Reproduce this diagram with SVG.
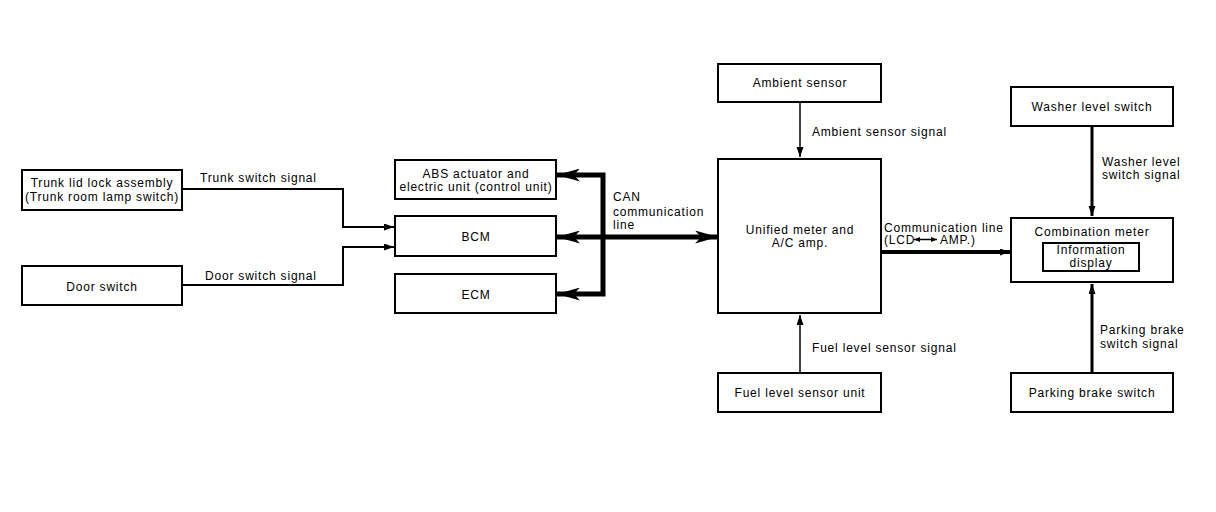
<svg xmlns="http://www.w3.org/2000/svg" width="1216" height="512" viewBox="0 0 1216 512">
<style>
.box{fill:#fff;stroke:#000;stroke-width:2}
text{font-family:"Liberation Sans",Arial,sans-serif;font-size:12px;letter-spacing:0.8px;fill:#000}
.c{text-anchor:middle}
.ln{fill:none;stroke:#000;stroke-linejoin:miter}
</style>
<defs>
<marker id="sa" markerUnits="userSpaceOnUse" markerWidth="11" markerHeight="8" refX="10" refY="3.5" orient="auto"><path d="M0,0 L10,3.5 L0,7 z" fill="#000"/></marker>
<marker id="ba" markerUnits="userSpaceOnUse" markerWidth="24" markerHeight="13" refX="23" refY="6.5" orient="auto-start-reverse"><path d="M0,0 L23,6.5 L0,13 L6,6.5 z" fill="#000"/></marker>
<marker id="ta" markerUnits="userSpaceOnUse" markerWidth="7" markerHeight="5" refX="6" refY="2.5" orient="auto-start-reverse"><path d="M0,0 L6,2.5 L0,5 z" fill="#000"/></marker>
</defs>
<rect width="1216" height="512" fill="#fff"/>
<g id="connectors">
<path class="ln" d="M182,189 H343 V227 H394" stroke-width="2" marker-end="url(#sa)"/>
<path class="ln" d="M182,285 H343 V247 H394" stroke-width="2" marker-end="url(#sa)"/>
<path class="ln" d="M557,175 H603 V294 H557" stroke-width="5" marker-start="url(#ba)" marker-end="url(#ba)"/>
<path class="ln" d="M557,237 H718" stroke-width="5" marker-start="url(#ba)" marker-end="url(#ba)"/>
<path class="ln" d="M800,102 V157" stroke-width="1.5" marker-end="url(#sa)"/>
<path class="ln" d="M800,373 V315" stroke-width="1.5" marker-end="url(#sa)"/>
<path class="ln" d="M881,252 H1010" stroke-width="4" marker-end="url(#sa)"/>
<path class="ln" d="M1092,126 V216" stroke-width="3" marker-end="url(#sa)"/>
<path class="ln" d="M1092,373 V284" stroke-width="3" marker-end="url(#sa)"/>
<path class="ln" d="M914,239.5 H937" stroke-width="1.5" marker-start="url(#ta)" marker-end="url(#ta)"/>
<text x="200" y="182">Trunk switch signal</text>
<text x="205" y="280">Door switch signal</text>
<text x="613" y="201">CAN</text>
<text x="613" y="216">communication</text>
<text x="613" y="229">line</text>
<text x="812" y="136">Ambient sensor signal</text>
<text x="812" y="352">Fuel level sensor signal</text>
<text x="884" y="232">Communication line</text>
<text x="884" y="244">(LCD</text>
<text x="940" y="244">AMP.)</text>
<text x="1102" y="166">Washer level</text>
<text x="1102" y="179">switch signal</text>
<text x="1100" y="334">Parking brake</text>
<text x="1100" y="348">switch signal</text>
</g>
<g id="trunk"><rect class="box" x="22" y="170" width="160" height="40"/><text class="c" x="102" y="187">Trunk lid lock assembly</text><text class="c" x="102" y="201">(Trunk room lamp switch)</text></g>
<g id="door"><rect class="box" x="22" y="266" width="160" height="39"/><text class="c" x="102" y="291">Door switch</text></g>
<g id="abs"><rect class="box" x="395" y="160" width="161" height="39"/><text class="c" x="476" y="178">ABS actuator and</text><text class="c" x="476" y="191">electric unit (control unit)</text></g>
<g id="bcm"><rect class="box" x="395" y="216" width="161" height="40"/><text class="c" x="476" y="241">BCM</text></g>
<g id="ecm"><rect class="box" x="395" y="274" width="161" height="39"/><text class="c" x="476" y="299">ECM</text></g>
<g id="ambient"><rect class="box" x="718" y="64" width="163" height="38"/><text class="c" x="800" y="87">Ambient sensor</text></g>
<g id="unified"><rect class="box" x="718" y="159" width="163" height="154"/><text class="c" x="800" y="234">Unified meter and</text><text class="c" x="800" y="247">A/C amp.</text></g>
<g id="fuel"><rect class="box" x="718" y="373" width="163" height="39"/><text class="c" x="800" y="397">Fuel level sensor unit</text></g>
<g id="washer"><rect class="box" x="1011" y="87" width="162" height="39"/><text class="c" x="1092" y="111">Washer level switch</text></g>
<g id="combination"><rect class="box" x="1011" y="218" width="162" height="64"/><text class="c" x="1092" y="236">Combination meter</text>
<g id="info"><rect class="box" x="1043" y="243" width="96" height="28"/><text class="c" x="1091" y="254">Information</text><text class="c" x="1091" y="267">display</text></g></g>
<g id="parking"><rect class="box" x="1011" y="373" width="162" height="39"/><text class="c" x="1092" y="397">Parking brake switch</text></g>
</svg>
